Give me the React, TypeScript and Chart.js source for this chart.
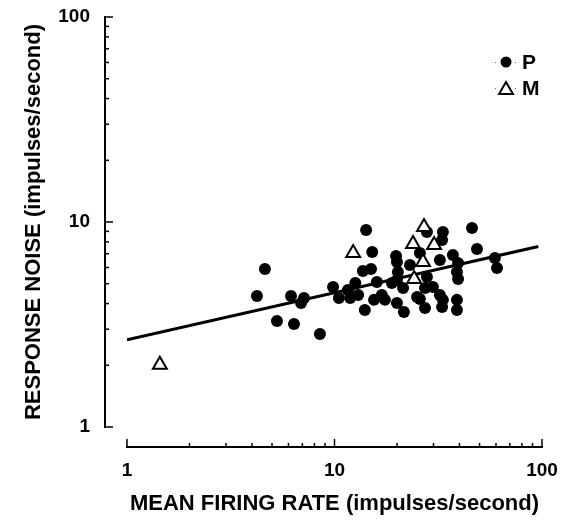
import React, { useEffect, useRef } from "react";
import { Chart, registerables } from "chart.js";

Chart.register(...registerables);

// P cells: mean firing rate (impulses/s) and response noise (impulses/s)
const pRate = [4.62, 4.23, 6.17, 6.9, 7.13, 5.28, 6.38, 8.51, 14.2, 15.2, 13.7, 15.0, 9.84, 10.5, 11.6, 12.6, 13.0, 11.9, 14.0, 16.0, 16.9, 20.0, 20.2, 20.0, 18.9, 21.4, 20.0, 21.6, 27.9, 33.3, 46.0, 33.0, 48.6, 37.2, 32.2, 39.4, 59.3, 60.7, 27.9, 38.9, 39.4, 27.3, 29.8, 25.0, 32.2, 33.3, 38.9, 25.8, 27.3, 33.0, 38.9, 25.8, 19.8, 17.5, 23.1, 15.5];
const pNoise = [5.9, 4.36, 4.36, 4.03, 4.26, 3.29, 3.18, 2.84, 9.14, 7.14, 5.77, 5.9, 4.82, 4.26, 4.66, 5.04, 4.4, 4.26, 3.72, 5.1, 4.4, 6.38, 5.7, 5.21, 5.04, 4.76, 4.03, 3.64, 8.94, 8.94, 9.35, 8.17, 7.38, 6.9, 6.53, 6.31, 6.67, 5.97, 5.39, 5.7, 5.27, 4.76, 4.82, 4.31, 4.4, 4.17, 4.17, 4.21, 3.81, 3.85, 3.72, 7.06, 6.82, 4.17, 6.17, 4.17];

// M cells
const mRate = [1.44, 12.3, 27.0, 23.9, 30.2, 26.7, 24.2];
const mNoise = [2.01, 7.06, 9.45, 7.81, 7.73, 6.38, 5.27];

// regression line end points
const fitRate = [1, 96];
const fitNoise = [2.66, 7.6];

// axis ticks
const majorTicks = [1, 10, 100];
const minorTicks = [2, 3, 4, 5, 6, 7, 8, 9, 20, 30, 40, 50, 60, 70, 80, 90];

const xTitle = "MEAN FIRING RATE (impulses/second)";
const yTitle = "RESPONSE NOISE (impulses/second)";
const legendLabels = ["P", "M"];

const FONT = "'Liberation Sans', Arial, Helvetica, sans-serif";

const zip = (xs: number[], ys: number[]) => xs.map((x, i) => ({ x, y: ys[i] }));

const axesPlugin = {
  id: "offsetAxes",
  afterDraw(chart: any) {
    const { ctx } = chart;
    const xs = chart.scales.x;
    const ys = chart.scales.y;
    const yLineX = xs.getPixelForValue(1) - 22;
    const xLineY = ys.getPixelForValue(1) + 20;
    ctx.save();
    ctx.strokeStyle = "#000";
    ctx.lineWidth = 2;
    ctx.lineCap = "butt";
    // y axis
    ctx.beginPath();
    ctx.moveTo(yLineX, ys.getPixelForValue(100) - 1);
    ctx.lineTo(yLineX, ys.getPixelForValue(1) + 1);
    ctx.stroke();
    // x axis
    ctx.beginPath();
    ctx.moveTo(xs.getPixelForValue(1) - 1, xLineY);
    ctx.lineTo(xs.getPixelForValue(100) + 1, xLineY);
    ctx.stroke();
    ctx.lineWidth = 1.5;
    const drawTicks = (vals: number[], len: number) => {
      vals.forEach((v) => {
        const py = ys.getPixelForValue(v);
        ctx.beginPath();
        ctx.moveTo(yLineX, py);
        ctx.lineTo(yLineX + len, py);
        ctx.stroke();
        const px = xs.getPixelForValue(v);
        ctx.beginPath();
        ctx.moveTo(px, xLineY);
        ctx.lineTo(px, xLineY - len);
        ctx.stroke();
      });
    };
    drawTicks(majorTicks, 8);
    drawTicks(minorTicks, 4);

    // legend
    const lx = 506;
    const rows = [62, 88];
    rows.forEach((ly, i) => {
      ctx.fillStyle = "#666";
      ctx.fillRect(lx - 11, ly, 1, 1);
      ctx.fillRect(lx + 9, ly, 1, 1);
      ctx.lineWidth = 2;
      if (i === 0) {
        ctx.fillStyle = "#000";
        ctx.beginPath();
        ctx.arc(lx, ly, 5.5, 0, Math.PI * 2);
        ctx.fill();
      } else {
        const r = 8;
        ctx.fillStyle = "#fff";
        ctx.strokeStyle = "#000";
        ctx.beginPath();
        for (let k = 0; k < 3; k++) {
          const a = (k * 2 * Math.PI) / 3;
          const px = lx + Math.sin(a) * r;
          const py = ly + 2 - Math.cos(a) * r;
          if (k === 0) ctx.moveTo(px, py);
          else ctx.lineTo(px, py);
        }
        ctx.closePath();
        ctx.fill();
        ctx.stroke();
      }
      ctx.fillStyle = "#000";
      ctx.font = `bold 21px ${FONT}`;
      ctx.textBaseline = "middle";
      ctx.textAlign = "left";
      ctx.fillText(legendLabels[i], lx + 16, ly + 1);
    });
    ctx.restore();
  },
};

const zeroPad = (s: any) => {
  s.paddingTop = 0;
  s.paddingBottom = 0;
  s.paddingLeft = 0;
  s.paddingRight = 0;
};

export default function App() {
  const ref = useRef<HTMLCanvasElement | null>(null);
  useEffect(() => {
    if (!ref.current) return;
    const chart = new Chart(ref.current, {
      type: "scatter",
      data: {
        datasets: [
          {
            label: "M",
            data: zip(mRate, mNoise),
            pointStyle: "triangle",
            pointRadius: 8,
            pointBackgroundColor: "#fff",
            pointBorderColor: "#000",
            pointBorderWidth: 2,
          },
          {
            type: "line",
            label: "fit",
            data: zip(fitRate, fitNoise),
            borderColor: "#000",
            borderWidth: 3,
            pointRadius: 0,
            fill: false,
          } as any,
          {
            label: "P",
            data: zip(pRate, pNoise),
            pointStyle: "circle",
            pointRadius: 6,
            pointBackgroundColor: "#000",
            pointBorderColor: "#000",
            pointBorderWidth: 0,
          },
        ],
      },
      options: {
        responsive: false,
        animation: false,
        layout: { padding: { top: 17, right: 24, left: 0, bottom: 0 } },
        plugins: { legend: { display: false }, tooltip: { enabled: false } },
        scales: {
          x: {
            type: "logarithmic",
            min: 1,
            max: 100,
            grid: { display: false, drawTicks: false },
            border: { display: false },
            afterFit: (s: any) => {
              s.height = 93;
              zeroPad(s);
            },
            ticks: {
              autoSkip: false,
              maxRotation: 0,
              padding: 32,
              color: "#000",
              font: { family: FONT, size: 19, weight: "bold" },
              callback: (v: any) => (majorTicks.includes(Number(v)) ? String(v) : ""),
            },
            title: {
              display: true,
              text: xTitle,
              color: "#000",
              font: { family: FONT, size: 22, weight: "bold" },
              padding: { top: 0, bottom: 3 },
            },
          },
          y: {
            type: "logarithmic",
            min: 1,
            max: 100,
            grid: { display: false, drawTicks: false },
            border: { display: false },
            afterFit: (s: any) => {
              s.width = 127;
              zeroPad(s);
            },
            ticks: {
              autoSkip: false,
              padding: 37,
              color: "#000",
              font: { family: FONT, size: 19, weight: "bold" },
              callback: (v: any) => (majorTicks.includes(Number(v)) ? String(v) : ""),
            },
            title: {
              display: true,
              text: yTitle,
              color: "#000",
              font: { family: FONT, size: 22, weight: "bold" },
              padding: { top: 21, bottom: 0 },
            },
          },
        },
      },
      plugins: [axesPlugin],
    });
    return () => chart.destroy();
  }, []);
  return (
    <div style={{ position: "fixed", left: 0, top: 0, width: 566, height: 520, background: "#fff" }}>
      <canvas ref={ref} width={566} height={520} style={{ display: "block" }} />
    </div>
  );
}
